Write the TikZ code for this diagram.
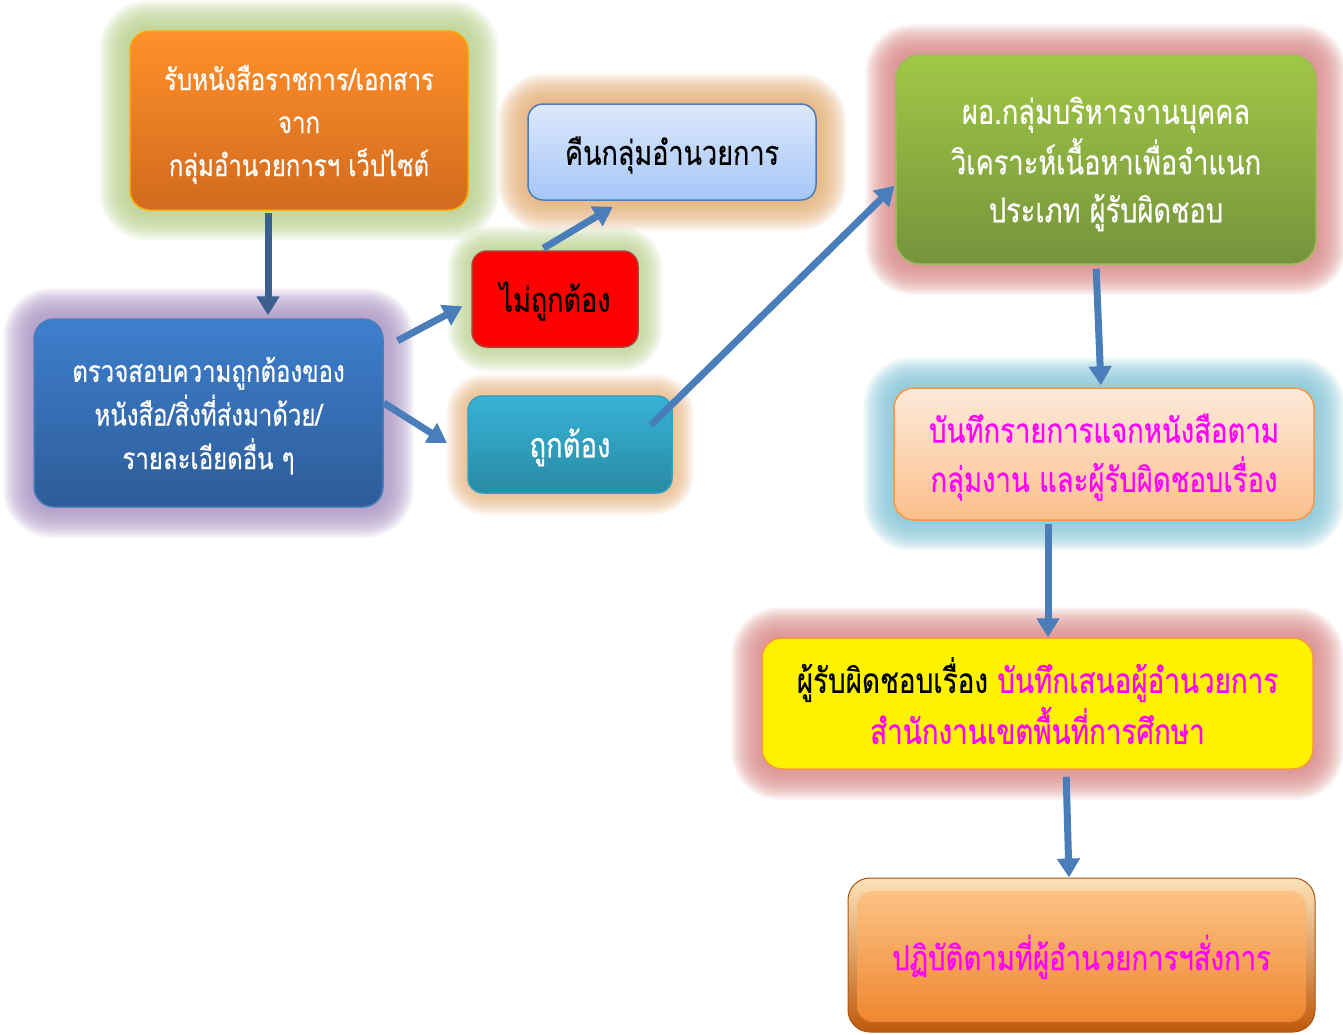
\documentclass[tikz,border=0pt]{standalone}
\usepackage{fontspec}
\newfontfamily\thai[Script=Thai,FakeBold=0.5]{Loma}
\usetikzlibrary{arrows.meta,calc}
\pgfdeclarelayer{glow}
\pgfsetlayers{glow,main}
\definecolor{arrowblue}{HTML}{4A7EBB}
\definecolor{arrowdark}{HTML}{3A5F8E}
\definecolor{gGreen}{HTML}{BCD38E}
\definecolor{gPurple}{HTML}{AE97C6}
\definecolor{gTan}{HTML}{E8B27A}
\definecolor{gRose}{HTML}{DC8C8A}
\definecolor{gSky}{HTML}{86C8DA}
\definecolor{tMagenta}{HTML}{FF00FF}
\newcommand\glowbox[3]{%
  \foreach \d in {1.5,3,...,#3} {
    \pgfmathsetmacro\rr{18+\d}
    \fill[#2, opacity=0.085, rounded corners=\rr pt]
      ($(#1.south west)+(-\d,\d)$) rectangle ($(#1.north east)+(\d,-\d)$);
  }}
\newcommand\btxt[1]{\raisebox{-4pt}[\height][\depth]{\scalebox{1}[1.25]{\begin{tabular}{@{}c@{}}#1\end{tabular}}}}
\tikzset{
  box/.style={rounded corners=20pt, inner sep=0pt, line width=1.5pt},
  arr/.style={draw=arrowblue, line width=7pt,
    -{Triangle[length=19pt,width=22pt]}},
}
\begin{document}
\begin{tikzpicture}[x=1pt,y=-1pt]
\useasboundingbox (0,0) rectangle (1343,1034);

% nodes
\node[box, minimum width=338pt, minimum height=179pt, draw=orange!70!yellow,
  top color={rgb,255:red,255;green,144;blue,42}, bottom color={rgb,255:red,210;green,106;blue,30},
  text=white, font=\thai\fontsize{24}{34.4}\selectfont]
  (recv) at (299,120.5) {\btxt{รับหนังสือราชการ/เอกสาร\\จาก\\กลุ่มอำนวยการฯ เว็ปไซต์}};
\node[box, minimum width=349pt, minimum height=188pt, draw=arrowblue,
  top color={rgb,255:red,62;green,127;blue,205}, bottom color={rgb,255:red,45;green,92;blue,152},
  text=white, font=\thai\fontsize{24}{34}\selectfont]
  (check) at (208.5,413) {\btxt{ตรวจสอบความถูกต้องของ\\หนังสือ/สิ่งที่ส่งมาด้วย/\\รายละเอียดอื่น ๆ}};
\node[box, rounded corners=15pt, minimum width=288pt, minimum height=96pt, draw=arrowblue,
  top color={rgb,255:red,220;green,232;blue,252}, bottom color={rgb,255:red,166;green,198;blue,247},
  text=black, font=\thai\fontsize{27}{35}\selectfont]
  (back) at (672,152) {\btxt{คืนกลุ่มอำนวยการ}};
\node[box, rounded corners=15pt, minimum width=166pt, minimum height=96pt,
  draw={rgb,255:red,178;green,59;blue,59}, fill=red, text=black,
  font=\thai\fontsize{27}{35}\selectfont]
  (wrong) at (555,299) {\btxt{ไม่ถูกต้อง}};
\node[box, rounded corners=15pt, minimum width=204pt, minimum height=97pt,
  draw={rgb,255:red,49;green,160;blue,192},
  top color={rgb,255:red,54;green,179;blue,214}, bottom color={rgb,255:red,42;green,138;blue,163},
  text=white, font=\thai\fontsize{27.5}{35}\selectfont]
  (right) at (570,444.5) {\btxt{ถูกต้อง}};
\node[box, rounded corners=24pt, minimum width=420pt, minimum height=209pt,
  draw={rgb,255:red,155;green,187;blue,89},
  top color={rgb,255:red,160;green,200;blue,70}, bottom color={rgb,255:red,118;green,147;blue,60},
  text=white, font=\thai\fontsize{27.2}{38.4}\selectfont]
  (head) at (1106,159.5) {\btxt{ผอ.กลุ่มบริหารงานบุคคล\\วิเคราะห์เนื้อหาเพื่อจำแนก\\ประเภท ผู้รับผิดชอบ}};
\node[box, minimum width=420pt, minimum height=132pt,
  draw={rgb,255:red,247;green,150;blue,70},
  top color={rgb,255:red,253;green,234;blue,218}, bottom color={rgb,255:red,251;green,191;blue,139},
  text=tMagenta, font=\thai\fontsize{27.5}{36.8}\selectfont]
  (record) at (1104,454) {\btxt{บันทึกรายการแจกหนังสือตาม\\กลุ่มงาน และผู้รับผิดชอบเรื่อง}};
\node[box, minimum width=551pt, minimum height=131pt,
  draw={rgb,255:red,247;green,150;blue,70}, fill=yellow, text=tMagenta,
  font=\thai\fontsize{27.8}{37.6}\selectfont]
  (propose) at (1037.5,703.5) {\btxt{{\color{black}ผู้รับผิดชอบเรื่อง} บันทึกเสนอผู้อำนวยการ\\สำนักงานเขตพื้นที่การศึกษา}};
\node[box, rounded corners=22pt, minimum width=467pt, minimum height=154pt,
  draw={rgb,255:red,170;green,85;blue,20}, line width=1pt,
  top color={rgb,255:red,253;green,226;blue,185}, bottom color={rgb,255:red,190;green,90;blue,12},
  path picture={\shade[top color={rgb,255:red,253;green,200;blue,140},
     bottom color={rgb,255:red,238;green,130;blue,42}, rounded corners=16pt]
     ([shift={(9pt,10pt)}]path picture bounding box.south west) rectangle
     ([shift={(-9pt,-13pt)}]path picture bounding box.north east);},
  text=tMagenta, font=\thai\fontsize{27.5}{35}\selectfont]
  (act) at (1081.5,955) {\btxt{ปฏิบัติตามที่ผู้อำนวยการฯสั่งการ}};

% glows
\begin{pgfonlayer}{glow}
\fill[white] (0,0) rectangle (1343,1034);
\glowbox{recv}{gGreen}{31}
\glowbox{check}{gPurple}{31}
\glowbox{back}{gTan}{30}
\glowbox{wrong}{gGreen}{24}
\glowbox{right}{gTan}{22}
\glowbox{head}{gRose}{31}
\glowbox{record}{gSky}{31}
\glowbox{propose}{gRose}{31}
\end{pgfonlayer}

% arrows
\draw[arr, draw=arrowdark, shorten <=2pt, shorten >=3pt]
  ([xshift=-31pt]recv.south) -- ([xshift=59.5pt]check.north);
\draw[arr, shorten <=15.6pt, shorten >=10pt]
  ([yshift=65pt]check.east) -- ([yshift=-2.6pt]wrong.west);
\draw[arr, shorten >=24pt]
  ([yshift=10pt]check.east) -- ([yshift=-11.3pt]right.west);
\draw[arr, shorten <=4pt, shorten >=11.5pt]
  ([xshift=-15pt]wrong.north) -- ([xshift=-49.2pt]back.south);
\draw[arr, shorten >=1pt]
  ([xshift=81pt,yshift=19.5pt]right.center) -- ([yshift=-25.5pt]head.west);
\draw[arr, shorten <=4pt, shorten >=2pt]
  ([xshift=-10pt]head.south) -- ([xshift=-3pt]record.north);
\draw[arr, shorten <=3pt]
  ([xshift=-56pt]record.south) -- ([xshift=10.5pt]propose.north);
\draw[arr, shorten <=7pt]
  ([xshift=28.5pt]propose.south) -- ([xshift=-12.5pt]act.north);
\end{tikzpicture}
\end{document}
